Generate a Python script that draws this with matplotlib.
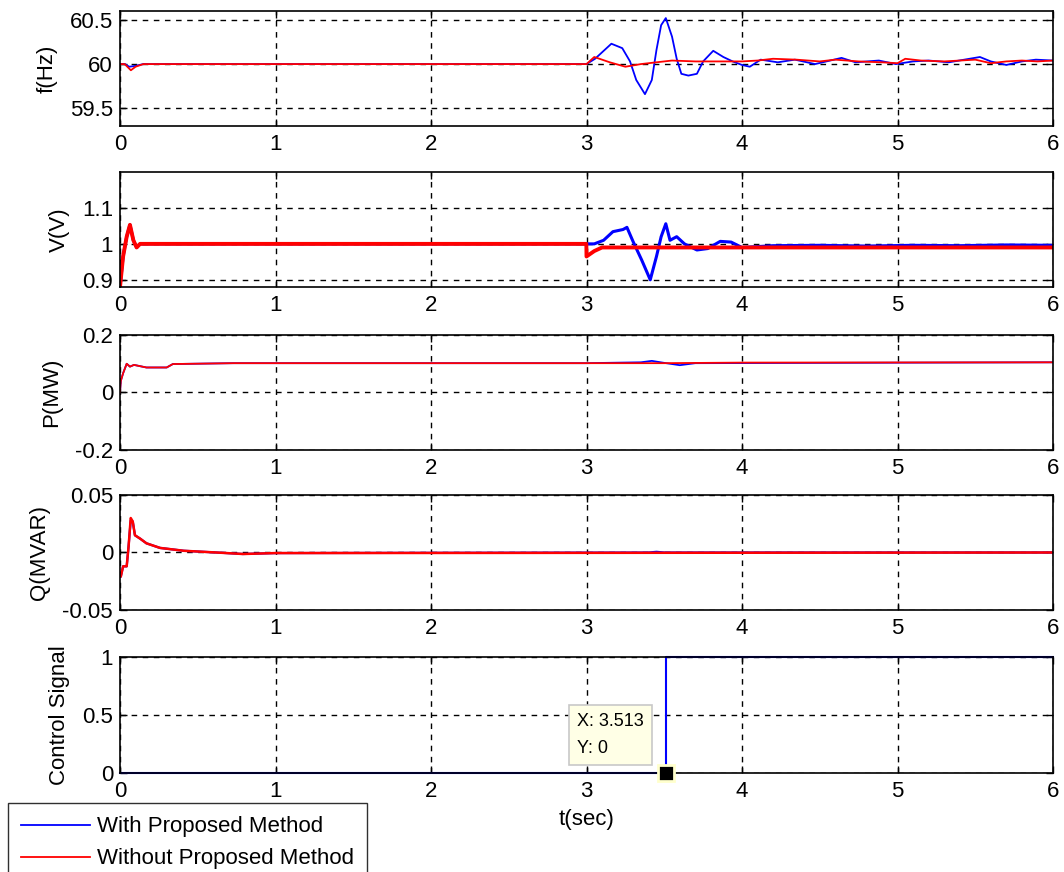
import matplotlib
matplotlib.use("Agg")
import matplotlib.pyplot as plt

plt.rcParams['font.family'] = ['Liberation Sans', 'DejaVu Sans']

# ---------------- data ----------------
# Panel 1: frequency f(Hz)
t_f_blue = [0.0, 0.03, 0.06, 0.1, 0.15, 3.0, 3.055, 3.16, 3.23, 3.28, 3.32, 3.376, 3.42, 3.45, 3.48,
            3.51, 3.55, 3.58, 3.61, 3.655, 3.71, 3.75, 3.815, 3.88, 3.94, 4.0, 4.05, 4.12, 4.23,
            4.34, 4.47, 4.64, 4.73, 4.88, 4.99, 5.1, 5.2, 5.33, 5.53, 5.6, 5.7, 5.8, 5.89, 6.0]
f_blue = [60.0, 60.0, 59.97, 59.98, 60.0, 60.0, 60.06, 60.23, 60.18, 60.03, 59.82, 59.66, 59.82, 60.16,
          60.44, 60.52, 60.31, 60.06, 59.89, 59.87, 59.89, 60.03, 60.15, 60.08, 60.03, 59.99, 59.97,
          60.05, 60.02, 60.05, 60.0, 60.07, 60.02, 60.04, 60.0, 60.03, 60.04, 60.02, 60.08, 60.03,
          59.99, 60.03, 60.05, 60.04]
t_f_red = [0.0, 0.03, 0.07, 0.1, 0.15, 3.0, 3.05, 3.15, 3.25, 3.35, 3.45, 3.55, 3.7, 3.9, 4.0, 4.1,
           4.2, 4.35, 4.5, 4.6, 4.75, 4.9, 5.0, 5.05, 5.15, 5.3, 5.5, 5.6, 5.7, 5.8, 5.9, 6.0]
f_red = [60.0, 60.0, 59.93, 59.97, 60.0, 60.0, 60.08, 60.02, 59.97, 60.0, 60.02, 60.04, 60.03, 60.03,
         60.03, 60.04, 60.06, 60.05, 60.03, 60.05, 60.03, 60.02, 60.01, 60.06, 60.04, 60.03, 60.05,
         60.01, 60.03, 60.04, 60.03, 60.04]

# Panel 2: voltage V(V)
t_v_blue = [0.0, 0.02, 0.043, 0.064, 0.086, 0.107, 0.129, 3.0, 3.05, 3.11, 3.17, 3.235, 3.26, 3.30,
            3.355, 3.41, 3.45, 3.48, 3.51, 3.537, 3.58, 3.63, 3.71, 3.78, 3.86, 3.93, 4.0, 4.2, 4.5,
            4.8, 5.1, 5.4, 5.7, 6.0]
v_blue = [0.88, 0.965, 1.02, 1.053, 1.01, 0.99, 1.0, 1.0, 1.0, 1.01, 1.034, 1.04, 1.046, 1.006, 0.955,
          0.90, 0.965, 1.02, 1.056, 1.01, 1.02, 1.0, 0.983, 0.987, 1.007, 1.005, 0.99, 0.995, 0.996,
          0.994, 0.996, 0.995, 0.997, 0.996]
t_v_red = [0.0, 0.02, 0.043, 0.064, 0.086, 0.107, 0.129, 2.999, 3.0, 3.05, 3.1, 3.3, 3.6, 4.0, 4.5,
           5.0, 5.5, 6.0]
v_red = [0.88, 0.965, 1.02, 1.053, 1.01, 0.99, 1.0, 1.0, 0.965, 0.98, 0.99, 0.99, 0.99, 0.99, 0.99,
         0.99, 0.99, 0.99]

# Panel 3: active power P(MW)
t_p_blue = [0.0, 0.005, 0.02, 0.043, 0.064, 0.09, 0.17, 0.3, 0.34, 0.73, 3.0, 3.35, 3.42, 3.5, 3.6,
            3.7, 6.0]
p_blue = [0.0, 0.04, 0.067, 0.10, 0.09, 0.096, 0.087, 0.087, 0.099, 0.102, 0.102, 0.105, 0.11,
          0.103, 0.095, 0.102, 0.105]
t_p_red = [0.0, 0.005, 0.02, 0.043, 0.064, 0.09, 0.17, 0.3, 0.34, 0.73, 3.0, 3.5, 4.0, 6.0]
p_red = [0.0, 0.04, 0.067, 0.10, 0.09, 0.096, 0.087, 0.087, 0.099, 0.102, 0.102, 0.102, 0.104, 0.105]

# Panel 4: reactive power Q(MVAR)
t_q_blue = [0.0, 0.005, 0.02, 0.043, 0.055, 0.069, 0.082, 0.096, 0.13, 0.17, 0.257, 0.41, 0.62, 0.79,
            1.0, 3.4, 3.45, 3.5, 6.0]
q_blue = [-0.02, -0.021, -0.012, -0.012, 0.005, 0.028, 0.027, 0.015, 0.012, 0.008, 0.004, 0.0015, 0.0,
          -0.0013, -0.0005, 0.0, 0.0006, 0.0, 0.0]
t_q_red = [0.0, 0.005, 0.02, 0.043, 0.055, 0.069, 0.082, 0.096, 0.13, 0.17, 0.257, 0.41, 0.62, 0.79,
           1.0, 6.0]
q_red = [-0.02, -0.021, -0.012, -0.012, 0.005, 0.03, 0.027, 0.015, 0.012, 0.008, 0.004, 0.0015, 0.0,
         -0.0013, -0.0005, 0.0]

# Panel 5: control signal
t_c = [0.0, 3.513, 3.513, 6.0]
c_blue = [0, 0, 1, 1]

tip_x, tip_y = 3.513, 0

ylabels = ['f(Hz)', 'V(V)', 'P(MW)', 'Q(MVAR)', 'Control Signal']
ylims = [(59.3, 60.6), (0.88, 1.2), (-0.2, 0.2), (-0.05, 0.05), (0, 1)]
yticks = [[59.5, 60, 60.5], [0.9, 1, 1.1], [-0.2, 0, 0.2], [-0.05, 0, 0.05], [0, 0.5, 1]]
ytlabels = [['59.5', '60', '60.5'], ['0.9', '1', '1.1'], ['-0.2', '0', '0.2'],
            ['-0.05', '0', '0.05'], ['0', '0.5', '1']]
xticks = [0, 1, 2, 3, 4, 5, 6]
legend_labels = ['With Proposed Method', 'Without Proposed Method']

# ---------------- figure ----------------
W, H = 1064, 872
fig = plt.figure(figsize=(W / 100, H / 100), dpi=100)
tops = [11, 172, 335, 495, 657]
bottoms = [126, 287, 450, 610, 773]
left, right = 120, 1053
FS = 16

blue = '#0000ff'
red = '#ff0000'

axes = []
for i in range(5):
    ax = fig.add_axes([left / W, 1 - bottoms[i] / H, (right - left) / W, (bottoms[i] - tops[i]) / H])
    axes.append(ax)
    ax.set_xlim(0, 6)
    ax.set_ylim(*ylims[i])
    ax.set_xticks(xticks)
    ax.set_xticklabels([str(x) for x in xticks])
    ax.set_yticks(yticks[i])
    ax.set_yticklabels(ytlabels[i])
    ax.tick_params(direction='in', length=5, width=1, top=True, right=True, labelsize=FS)
    ax.tick_params(axis='x', pad=6)
    ax.tick_params(axis='y', pad=5)
    ax.grid(True, color='black', linestyle=(0, (4, 4)), linewidth=1)
    for s in ax.spines.values():
        s.set_linewidth(1.2)
        s.set_color('black')
    ax.set_ylabel(ylabels[i], fontsize=FS, labelpad=9)

lw_b = [1.3, 2.2, 1.3, 1.6, 1.5]
lw_r = [1.3, 2.8, 1.3, 1.8, 1.5]

ax = axes[0]
lb, = ax.plot(t_f_blue, f_blue, color=blue, lw=lw_b[0])
lr, = ax.plot(t_f_red, f_red, color=red, lw=lw_r[0])
axes[1].plot(t_v_blue, v_blue, color=blue, lw=lw_b[1])
axes[1].plot(t_v_red, v_red, color=red, lw=lw_r[1])
axes[2].plot(t_p_blue, p_blue, color=blue, lw=lw_b[2])
axes[2].plot(t_p_red, p_red, color=red, lw=lw_r[2])
axes[3].plot(t_q_blue, q_blue, color=blue, lw=lw_b[3])
axes[3].plot(t_q_red, q_red, color=red, lw=lw_r[3])
axes[4].plot(t_c, c_blue, color=blue, lw=lw_b[4], clip_on=False)
axes[4].set_xlabel('t(sec)', fontsize=FS, labelpad=5)

# data tip
ax5 = axes[4]
ax5.plot([tip_x], [tip_y], marker='s', markersize=11, color='black',
         markeredgecolor='#ffffcc', markeredgewidth=2, clip_on=False, zorder=10)
ax5.annotate('X: %.3f\nY: %g' % (tip_x, tip_y), xy=(tip_x, tip_y), xytext=(-89, 16),
             textcoords='offset pixels', fontsize=13, ha='left', va='bottom', linespacing=1.75,
             bbox=dict(boxstyle='square,pad=0.45', fc='#ffffe6', ec='#c8c8c8', lw=1.2), zorder=11)

# legend
fig.legend([lb, lr], legend_labels, loc='upper left', bbox_to_anchor=(8 / W, 1 - 803 / H),
           fontsize=FS, frameon=True, fancybox=False, edgecolor='#303030', framealpha=1,
           handlelength=3.1, handletextpad=0.3, borderpad=0.6, labelspacing=0.5,
           borderaxespad=0)

fig.savefig('out.png', dpi=100)
